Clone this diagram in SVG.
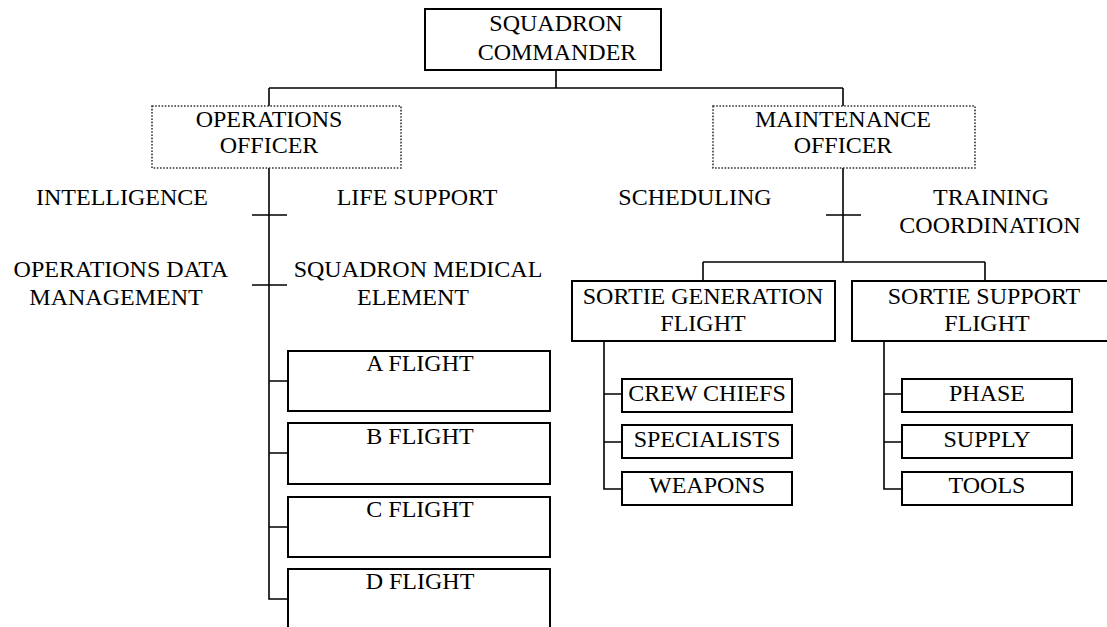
<svg xmlns="http://www.w3.org/2000/svg" width="1107" height="627" viewBox="0 0 1107 627">
<style>
text{font-family:"Liberation Serif",Tinos,"Times New Roman","DejaVu Serif",serif;font-size:24px;fill:#000;text-anchor:middle}
.box{fill:#fff;stroke:#000;stroke-width:2}
.dot{fill:#fff;stroke:#333;stroke-width:1.6;stroke-dasharray:1.6,1.6}
.ln{fill:none;stroke:#000;stroke-width:1.6}
</style>
<rect width="1107" height="627" fill="#fff"/>
<g id="connectors" class="ln">
<path class="ln" d="M556,70V88M269,88H843M269,88V106M843,88V106"/>
<path class="ln" d="M269,168V599H288M269,381H288M269,453H288M269,527H288M252,215H287M252,285H287"/>
<path class="ln" d="M843,168V262M826,215H861M703,262H985M703,262V281M985,262V281"/>
<path class="ln" d="M604,341V489H622M604,394H622M604,442H622"/>
<path class="ln" d="M884,341V489H902M884,394H902M884,442H902"/>
</g>
<g id="commander"><rect class="box" x="425" y="9" width="236" height="61"/><text x="556" y="31">SQUADRON</text><text x="557" y="60">COMMANDER</text></g>
<g id="ops-officer"><rect class="dot" x="152" y="106" width="249" height="62"/><text x="269" y="127">OPERATIONS</text><text x="269" y="153">OFFICER</text></g>
<g id="mx-officer"><rect class="dot" x="713" y="106" width="262" height="62"/><text x="843" y="127">MAINTENANCE</text><text x="843" y="153">OFFICER</text></g>
<g id="intelligence"><text x="122" y="205">INTELLIGENCE</text></g>
<g id="life-support"><text x="417" y="205">LIFE SUPPORT</text></g>
<g id="ops-data"><text x="121" y="277">OPERATIONS DATA</text><text x="116" y="305">MANAGEMENT</text></g>
<g id="medical"><text x="418" y="277">SQUADRON MEDICAL</text><text x="413" y="305">ELEMENT</text></g>
<g id="scheduling"><text x="695" y="205">SCHEDULING</text></g>
<g id="training"><text x="991" y="205">TRAINING</text><text x="990" y="233">COORDINATION</text></g>
<g id="sortie-gen"><rect class="box" x="572" y="281" width="263" height="60"/><text x="703" y="304">SORTIE GENERATION</text><text x="703" y="331">FLIGHT</text></g>
<g id="sortie-sup"><rect class="box" x="852" y="281" width="264" height="60"/><text x="984" y="304">SORTIE SUPPORT</text><text x="987" y="331">FLIGHT</text></g>
<g id="a-flight"><rect class="box" x="288" y="351" width="262" height="60"/><text x="420" y="371">A FLIGHT</text></g>
<g id="b-flight"><rect class="box" x="288" y="423" width="262" height="61"/><text x="420" y="444">B FLIGHT</text></g>
<g id="c-flight"><rect class="box" x="288" y="497" width="262" height="60"/><text x="420" y="517">C FLIGHT</text></g>
<g id="d-flight"><rect class="box" x="288" y="569" width="262" height="70"/><text x="420" y="589">D FLIGHT</text></g>
<g id="crew-chiefs"><rect class="box" x="622" y="379" width="170" height="33"/><text x="707" y="401">CREW CHIEFS</text></g>
<g id="specialists"><rect class="box" x="622" y="425" width="170" height="33"/><text x="707" y="447">SPECIALISTS</text></g>
<g id="weapons"><rect class="box" x="622" y="472" width="170" height="33"/><text x="707" y="493">WEAPONS</text></g>
<g id="phase"><rect class="box" x="902" y="379" width="170" height="33"/><text x="987" y="401">PHASE</text></g>
<g id="supply"><rect class="box" x="902" y="425" width="170" height="33"/><text x="987" y="447">SUPPLY</text></g>
<g id="tools"><rect class="box" x="902" y="472" width="170" height="33"/><text x="987" y="493">TOOLS</text></g>
</svg>
